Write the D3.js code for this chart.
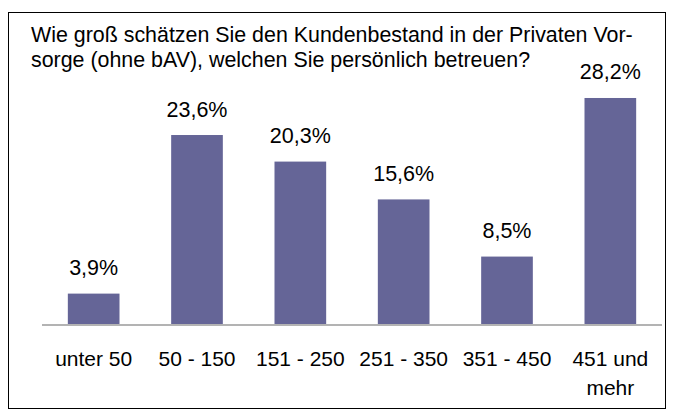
<!DOCTYPE html>
<html>
<head>
<meta charset="utf-8">
<script src="https://cdn.jsdelivr.net/npm/d3@7"></script>
<style>
  body { margin: 0; background: #fff; }
  svg text { font-family: "Liberation Sans", Arial, sans-serif; fill: #000; }
</style>
</head>
<body>
<div id="chart"></div>
<script>
// chart data
var categories = ["unter 50", "50 - 150", "151 - 250", "251 - 350", "351 - 450", "451 und mehr"];
var values = [3.9, 23.6, 20.3, 15.6, 8.5, 28.2];
var titleLines = [
    "Wie groß schätzen Sie den Kundenbestand in der Privaten Vor-",
    "sorge (ohne bAV), welchen Sie persönlich betreuen?"
];

function init() {
    var w = 675;
    var h = 416;
    var baseY = 325;

    var dataset = categories.map(function(c, i) {
        return { cat: c, value: values[i] };
    });

    var svg = d3.select("#chart")
        .append("svg")
        .attr("width", w)
        .attr("height", h);

    // frame
    svg.append("rect")
        .attr("x", 8.5)
        .attr("y", 12.5)
        .attr("width", 657)
        .attr("height", 396)
        .attr("fill", "#fff")
        .attr("stroke", "#000")
        .attr("stroke-width", 1);

    // title
    svg.append("text")
        .attr("x", 31)
        .attr("y", 41.5)
        .style("font-size", "21.4px")
        .selectAll("tspan")
        .data(titleLines)
        .enter()
        .append("tspan")
        .attr("x", 31)
        .attr("dy", function(d, i) { return i === 0 ? 0 : 25.5; })
        .text(function(d) { return d; });

    var xScale = d3.scaleBand()
        .domain(categories)
        .range([42, 662])
        .paddingInner(0.5)
        .paddingOuter(0.25);

    var yScale = d3.scaleLinear()
        .domain([0, 30])
        .range([baseY, 83.5]);

    svg.selectAll("rect.bar")
        .data(dataset)
        .enter()
        .append("rect")
        .attr("class", "bar")
        .attr("x", function(d) { return xScale(d.cat); })
        .attr("y", function(d) { return yScale(d.value); })
        .attr("width", xScale.bandwidth())
        .attr("height", function(d) { return yScale(0) - yScale(d.value); })
        .attr("fill", "#656597");

    // value labels
    svg.selectAll("text.val")
        .data(dataset)
        .enter()
        .append("text")
        .attr("class", "val")
        .attr("x", function(d) { return xScale(d.cat) + xScale.bandwidth() / 2; })
        .attr("y", function(d) { return yScale(d.value) - 18.5; })
        .attr("text-anchor", "middle")
        .style("font-size", "21.5px")
        .text(function(d) { return d.value.toFixed(1).replace(".", ",") + "%"; });

    // x axis
    var xAxis = d3.axisBottom(xScale).tickSize(0).tickPadding(0);
    var gx = svg.append("g")
        .attr("transform", "translate(0," + baseY + ")")
        .call(xAxis);
    gx.select(".domain")
        .attr("stroke", "#b3b3b3")
        .attr("stroke-width", 2)
        .attr("d", "M" + xScale.range()[0] + ",0H" + xScale.range()[1]);
    gx.selectAll(".tick text").remove();
    gx.selectAll(".tick")
        .append("text")
        .attr("text-anchor", "middle")
        .style("font-size", "21px")
        .selectAll("tspan")
        .data(function(d) {
            return d === "451 und mehr" ? ["451 und", "mehr"] : [d];
        })
        .enter()
        .append("tspan")
        .attr("x", 0)
        .attr("y", function(d, i) { return 41 + i * 29; })
        .text(function(d) { return d; });
}

window.onload = init;
</script>
</body>
</html>
